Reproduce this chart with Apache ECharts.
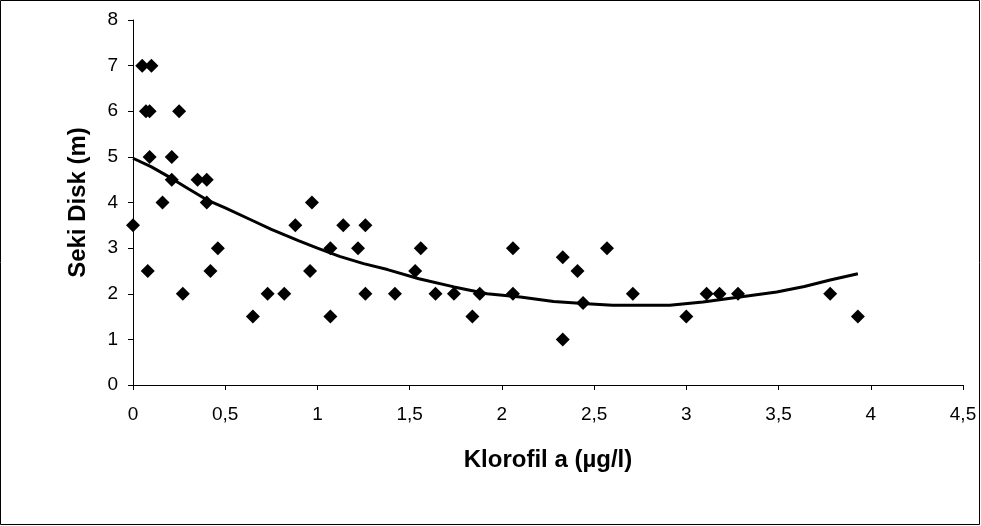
<!DOCTYPE html>
<html>
  <head>
    <meta charset="utf-8" />
    <title>Seki Disk - Klorofil a</title>
    <script src="https://cdn.jsdelivr.net/npm/echarts@6/dist/echarts.min.js"></script>
  </head>
  <body style="margin: 0; background: #fff">
    <div id="main" style="width: 981px; height: 526px"></div>
    <script type="text/javascript">
      // klorofil a (µg/l) değerleri
      var klorofil = [
        0.05, 0.1, 0.07, 0.09, 0.25, 0.09, 0.21, 0.21, 0.35, 0.4,
        0.16, 0.4, 0.97, 0, 0.88, 1.14, 1.26, 0.46, 1.07, 1.22,
        1.56, 2.06, 2.57, 2.33, 0.08, 0.42, 0.96, 1.53, 2.41, 0.27,
        0.73, 0.82, 1.26, 1.42, 1.64, 1.74, 1.88, 2.06, 2.71, 3.11,
        3.18, 3.28, 3.78, 2.44, 0.65, 1.07, 1.84, 3.0, 3.93, 2.33
      ];
      // seki disk derinliği (m)
      var seki = [
        7, 7, 6, 6, 6, 5, 5, 4.5, 4.5, 4.5,
        4, 4, 4, 3.5, 3.5, 3.5, 3.5, 3, 3, 3,
        3, 3, 3, 2.8, 2.5, 2.5, 2.5, 2.5, 2.5, 2,
        2, 2, 2, 2, 2, 2, 2, 2, 2, 2,
        2, 2, 2, 1.8, 1.5, 1.5, 1.5, 1.5, 1.5, 1
      ];
      // trend çizgisi
      var trendX = [
        0, 0.1, 0.2, 0.3, 0.4, 0.5, 0.65, 0.75, 0.9, 1.0, 1.12, 1.25, 1.38,
        1.55, 1.74, 1.92, 2.1, 2.28, 2.46, 2.6, 2.91, 3.09, 3.27, 3.49, 3.64,
        3.78, 3.93
      ];
      var trendY = [
        4.97, 4.78, 4.55, 4.3, 4.06, 3.88, 3.6, 3.41, 3.16, 3.0, 2.82, 2.66,
        2.53, 2.33, 2.15, 2.0, 1.93, 1.83, 1.78, 1.75, 1.75, 1.82, 1.92, 2.04,
        2.16, 2.3, 2.44
      ];

      var font = "'Liberation Sans', Arial, sans-serif";
      var myChart = echarts.init(document.getElementById('main'));

      var option = {
        animation: false,
        backgroundColor: '#fff',
        graphic: [
          {
            type: 'rect',
            shape: { x: 0.5, y: 0.5, width: 979, height: 524 },
            style: { fill: 'none', stroke: '#000', lineWidth: 1 },
          },
        ],
        grid: { left: 133, right: 18, top: 20, bottom: 141 },
        xAxis: {
          type: 'value',
          min: 0,
          max: 4.5,
          interval: 0.5,
          name: 'Klorofil a (µg/l)',
          nameLocation: 'middle',
          nameGap: 63,
          nameTextStyle: { fontFamily: font, fontSize: 24, fontWeight: 'bold', color: '#000' },
          axisLine: { lineStyle: { color: '#000', width: 1 } },
          axisTick: { length: 5, lineStyle: { color: '#000' } },
          splitLine: { show: false },
          axisLabel: {
            margin: 20,
            fontFamily: font,
            fontSize: 19,
            color: '#000',
            formatter: function (v) {
              return String(v).replace('.', ',');
            },
          },
        },
        yAxis: {
          type: 'value',
          min: 0,
          max: 8,
          interval: 1,
          name: 'Seki Disk (m)',
          nameLocation: 'middle',
          nameGap: 43,
          nameTextStyle: { fontFamily: font, fontSize: 24, fontWeight: 'bold', color: '#000' },
          axisLine: { show: true, lineStyle: { color: '#000', width: 1 } },
          axisTick: { show: true, length: 5, lineStyle: { color: '#000' } },
          splitLine: { show: false },
          axisLabel: { margin: 15, fontFamily: font, fontSize: 19, color: '#000' },
        },
        series: [
          {
            type: 'scatter',
            symbol: 'diamond',
            symbolSize: 14,
            itemStyle: { color: '#000', opacity: 1 },
            data: klorofil.map(function (x, i) {
              return [x, seki[i]];
            }),
          },
          {
            type: 'line',
            symbol: 'none',
            smooth: false,
            lineStyle: { color: '#000', width: 3 },
            data: trendX.map(function (x, i) {
              return [x, trendY[i]];
            }),
          },
        ],
      };

      myChart.setOption(option);
    </script>
  </body>
</html>
